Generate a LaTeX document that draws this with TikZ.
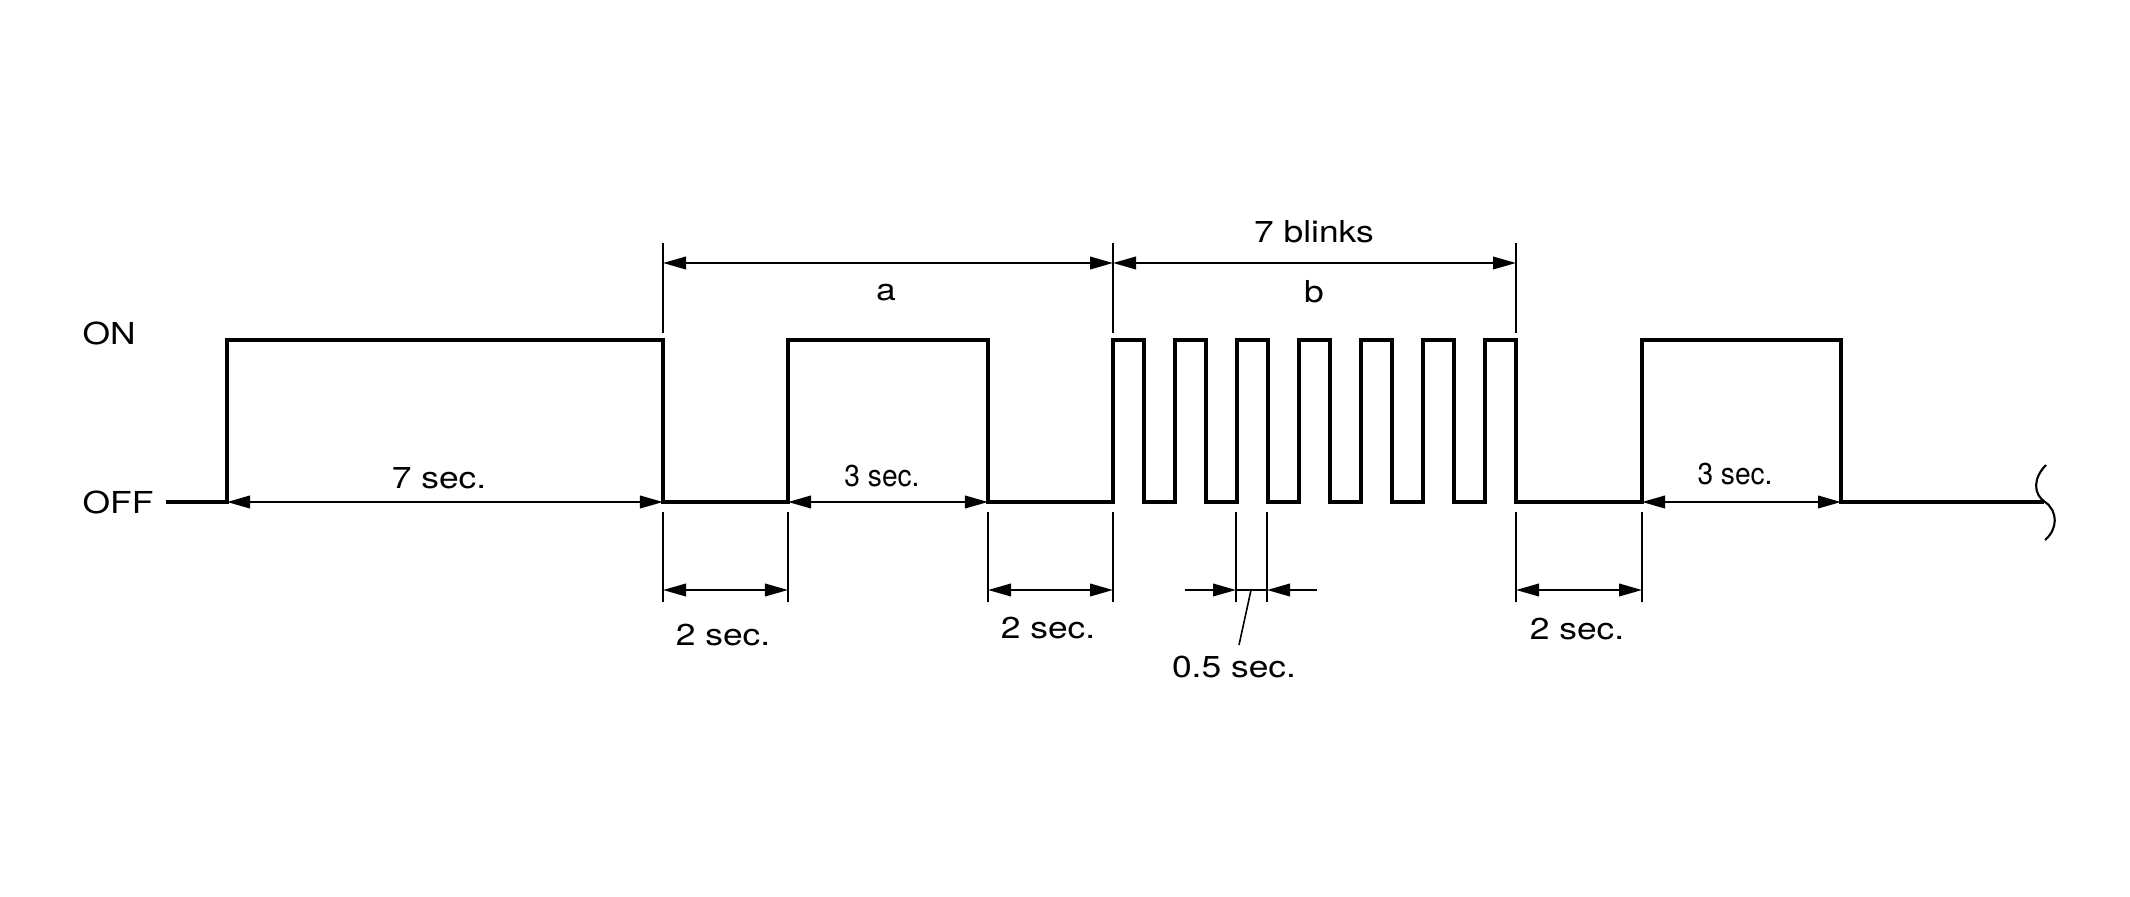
\documentclass[tikz,border=0pt]{standalone}
\usepackage{fontspec}
\setmainfont[FakeStretch=1.17]{TeX Gyre Heros}
\newfontfamily\narrowfont[FakeStretch=0.93]{TeX Gyre Heros}
\usetikzlibrary{arrows.meta}
\tikzset{
  signal/.style={line width=1.25pt, line join=miter},
  dimline/.style={line width=0.6pt,
                  {Triangle[length=2.3mm,width=1.25mm]}-{Triangle[length=2.3mm,width=1.25mm]}},
  dimhalf/.style={line width=0.6pt, -{Triangle[length=2.3mm,width=1.25mm]}},
  extline/.style={line width=0.45pt},
  lbl/.style={font=\fontsize{8.6}{10}\selectfont, inner sep=0pt},
  narrowlbl/.style={lbl, font=\fontsize{8.6}{10}\selectfont\narrowfont},
}

\begin{document}
\begin{tikzpicture}[x=0.01cm, y=-0.01cm]
    \useasboundingbox[fill=white] (0,0) rectangle (2130,897);
    % levels
    \node[lbl, anchor=west] (on) at (82,333) {ON};
    \node[lbl, anchor=west] (off) at (82,502) {OFF};
    % signal
    \coordinate (s0) at (166,502);
    \coordinate (s1) at (2044,502);
    \draw[signal] (s0) -- (227,502) -- (227,340) -- (663,340) -- (663,502)
      -- (788,502) -- (788,340) -- (988,340) -- (988,502) -- (1113,502)
      \foreach \i in {0,...,6} {
        -- ({1113+62*\i},502) -- ({1113+62*\i},340)
        -- ({1144+62*\i},340) -- ({1144+62*\i},502)}
      -- (1642,502) -- (1642,340) -- (1841,340) -- (1841,502) -- (s1);
    \draw[line width=0.6pt] (2046,465) .. controls (2033,478) and (2033,494) .. (2045,502)
      .. controls (2058,511) and (2058,529) .. (2045,540);
    % extension lines
    \foreach \x in {663,1113,1516}
      \draw[extline] (\x,243) -- (\x,333);
    \foreach \x in {663,788,988,1113,1236,1267,1516,1642}
      \draw[extline] (\x,512) -- (\x,602);
    % top dimensions
    \coordinate (a-l) at (663,263);
    \coordinate (a-r) at (1113,263);
    \coordinate (b-r) at (1516,263);
    \draw[dimline] (a-l) -- (a-r);
    \draw[dimline] (a-r) -- (b-r);
    \node[lbl] (a) at (886,293) {a};
    \node[lbl] (blinks) at (1314,232) {7 blinks};
    \node[lbl] (b) at (1314,292) {b};
    % on-time dimensions
    \coordinate (on1-l) at (227,502);
    \coordinate (on1-r) at (663,502);
    \coordinate (on2-l) at (788,502);
    \coordinate (on2-r) at (988,502);
    \coordinate (on3-l) at (1642,502);
    \coordinate (on3-r) at (1841,502);
    \draw[dimline] (on1-l) -- (on1-r);
    \draw[dimline] (on2-l) -- (on2-r);
    \draw[dimline] (on3-l) -- (on3-r);
    \node[lbl] (sev) at (439,478) {7 sec.};
    \node[narrowlbl] (thr1) at (882,476) {3 sec.};
    \node[narrowlbl] (thr2) at (1735,474) {3 sec.};
    % off-time dimensions
    \coordinate (off1-l) at (663,590);
    \coordinate (off1-r) at (788,590);
    \coordinate (off2-l) at (988,590);
    \coordinate (off2-r) at (1113,590);
    \coordinate (off3-l) at (1516,590);
    \coordinate (off3-r) at (1642,590);
    \draw[dimline] (off1-l) -- (off1-r);
    \draw[dimline] (off2-l) -- (off2-r);
    \draw[dimline] (off3-l) -- (off3-r);
    \node[lbl] (two1) at (723,635) {2 sec.};
    \node[lbl] (two2) at (1048,628) {2 sec.};
    \node[lbl] (two3) at (1577,629) {2 sec.};
    % blink width
    \coordinate (h-l) at (1236,590);
    \coordinate (h-r) at (1267,590);
    \coordinate (h-lo) at (1185,590);
    \coordinate (h-ro) at (1317,590);
    \coordinate (h-m) at (1251,590);
    \draw[dimhalf] (h-lo) -- (h-l);
    \draw[dimhalf] (h-ro) -- (h-r);
    \draw[line width=0.6pt] (h-l) -- (h-r);
    \node[lbl] (half) at (1234,667) {0.5 sec.};
    \draw[extline] (h-m) -- (1239,645);
\end{tikzpicture}
\end{document}
